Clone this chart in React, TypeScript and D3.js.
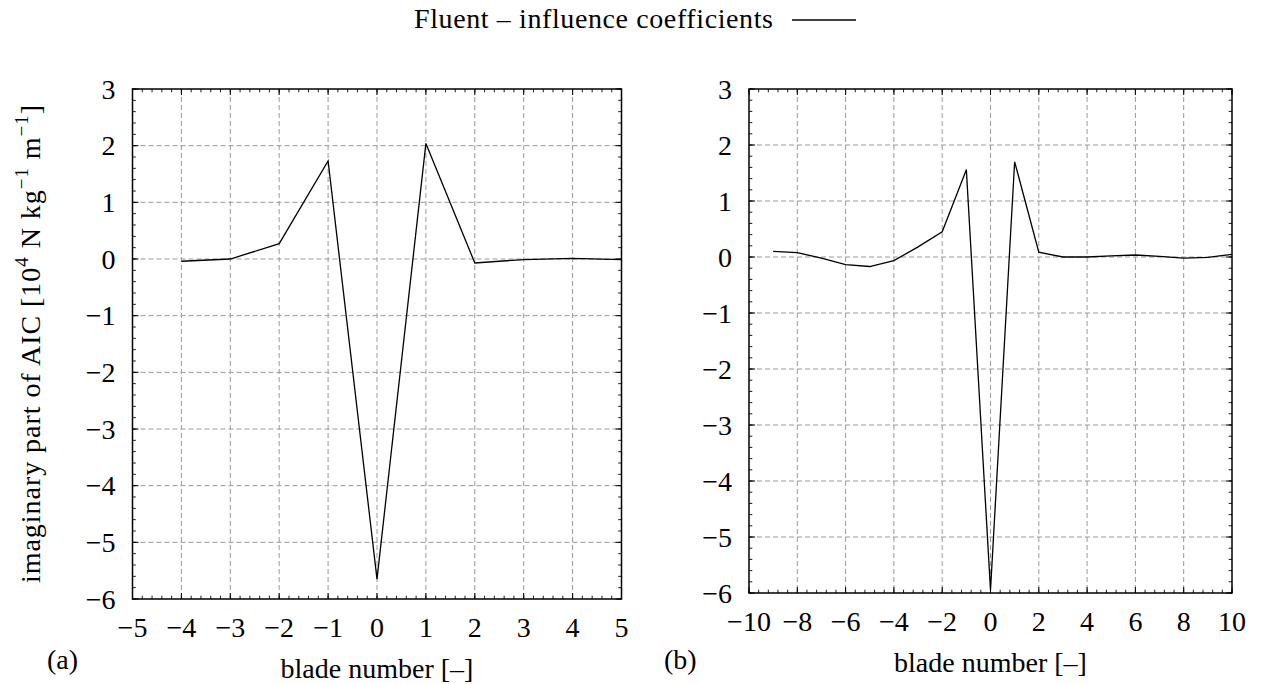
import React from "react";
import * as d3 from "d3";

const bladesA = [-4, -3, -2, -1, 0, 1, 2, 3, 4, 5];
const valuesA = [-0.04, 0.0, 0.27, 1.73, -5.65, 2.04, -0.07, -0.01, 0.01, -0.01];

const bladesB = [-9, -8, -7, -6, -5, -4, -3, -2, -1, 0, 1, 2, 3, 4, 5, 6, 7, 8, 9, 10];
const valuesB = [0.1, 0.077, -0.02, -0.137, -0.17, -0.065, 0.18, 0.45, 1.56, -5.95, 1.7, 0.085, 0.0, 0.0, 0.02, 0.036, 0.01, -0.02, -0.006, 0.048];

const xTicksA = [-5, -4, -3, -2, -1, 0, 1, 2, 3, 4, 5];
const xTicksB = [-10, -8, -6, -4, -2, 0, 2, 4, 6, 8, 10];
const yTicks = [3, 2, 1, 0, -1, -2, -3, -4, -5, -6];

const FONT = "'Liberation Serif', 'DejaVu Serif', serif";
const FS = 28;

function fmt(v: number) {
  return v < 0 ? "\u2212" + Math.abs(v) : String(v);
}

function Panel(props: {
  xs: number[]; ys: number[]; xTicks: number[]; xDomain: [number, number];
  left: number; right: number; top: number; bottom: number; minorStep: number;
  label: string; labelX: number; labelY: number; titleY: number;
}) {
  const { xs, ys, xTicks, xDomain, left, right, top, bottom, minorStep, label, labelX, labelY, titleY } = props;
  const x = d3.scaleLinear().domain(xDomain).range([left, right]);
  const y = d3.scaleLinear().domain([-6, 3]).range([bottom, top]);
  const line = d3.line<number>().x((_, i) => x(xs[i])).y((d) => y(d));
  const xMinor = d3.range(xDomain[0], xDomain[1] + 1e-9, minorStep);
  const yMinor = d3.range(-6, 3 + 1e-9, 0.2);
  const majLen = 6, minLen = 3.3;
  return (
    <g>
      {xTicks.slice(1, -1).map((t) => (
        <line key={"gx" + t} x1={x(t)} x2={x(t)} y1={top} y2={bottom} stroke="#9a9a9a" strokeWidth={1} strokeDasharray="5,3" />
      ))}
      {yTicks.slice(1, -1).map((t) => (
        <line key={"gy" + t} x1={left} x2={right} y1={y(t)} y2={y(t)} stroke="#9a9a9a" strokeWidth={1} strokeDasharray="5,3" />
      ))}
      {xMinor.map((t, i) => (
        <g key={"mx" + i}>
          <line x1={x(t)} x2={x(t)} y1={bottom} y2={bottom - minLen} stroke="#000" strokeWidth={0.9} />
          <line x1={x(t)} x2={x(t)} y1={top} y2={top + minLen} stroke="#000" strokeWidth={0.9} />
        </g>
      ))}
      {yMinor.map((t, i) => (
        <g key={"my" + i}>
          <line x1={left} x2={left + minLen} y1={y(t)} y2={y(t)} stroke="#000" strokeWidth={0.9} />
          <line x1={right} x2={right - minLen} y1={y(t)} y2={y(t)} stroke="#000" strokeWidth={0.9} />
        </g>
      ))}
      {xTicks.map((t) => (
        <g key={"Mx" + t}>
          <line x1={x(t)} x2={x(t)} y1={bottom} y2={bottom - majLen} stroke="#000" strokeWidth={1} />
          <line x1={x(t)} x2={x(t)} y1={top} y2={top + majLen} stroke="#000" strokeWidth={1} />
          <text x={x(t)} y={bottom + 38} textAnchor="middle" fontSize={FS} fontFamily={FONT}>{fmt(t)}</text>
        </g>
      ))}
      {yTicks.map((t) => (
        <g key={"My" + t}>
          <line x1={left} x2={left + majLen} y1={y(t)} y2={y(t)} stroke="#000" strokeWidth={1} />
          <line x1={right} x2={right - majLen} y1={y(t)} y2={y(t)} stroke="#000" strokeWidth={1} />
          <text x={left - 17} y={y(t) + 9.5} textAnchor="end" fontSize={FS} fontFamily={FONT}>{fmt(t)}</text>
        </g>
      ))}
      <rect x={left} y={top} width={right - left} height={bottom - top} fill="none" stroke="#000" strokeWidth={1.5} />
      <path d={line(ys) || ""} fill="none" stroke="#000" strokeWidth={1.3} strokeLinejoin="miter" />
      <text x={labelX} y={labelY} fontSize={FS} fontFamily={FONT}>{label}</text>
      <text x={(left + right) / 2} y={titleY} textAnchor="middle" fontSize={FS} fontFamily={FONT}>blade number [{"\u2013"}]</text>
    </g>
  );
}

export default function App() {
  return (
    <svg width={1261} height={684} style={{ position: "absolute", left: 0, top: 0, background: "#fff" }}>
      <text x={414} y={28} fontSize={FS} fontFamily={FONT} textLength={359} lengthAdjust="spacing">Fluent {"\u2013"} influence coefficients</text>
      <line x1={792} x2={856} y1={20} y2={20} stroke="#000" strokeWidth={1.3} />
      <Panel xs={bladesA} ys={valuesA} xTicks={xTicksA} xDomain={[-5, 5]} left={132.5} right={621.5} top={89} bottom={599}
        minorStep={0.2} label="(a)" labelX={47} labelY={669} titleY={678} />
      <Panel xs={bladesB} ys={valuesB} xTicks={xTicksB} xDomain={[-10, 10]} left={749} right={1232} top={89} bottom={593}
        minorStep={0.4} label="(b)" labelX={664} labelY={669} titleY={672} />
      <text transform="translate(40,344) rotate(-90)" x={-239} y={0} fontSize={FS} fontFamily={FONT} textLength={478} lengthAdjust="spacing">
        imaginary part of AIC [10<tspan dy={-12} fontSize={19}>4</tspan><tspan dy={12}> N kg</tspan><tspan dy={-12} fontSize={19}>{"\u22121"}</tspan><tspan dy={12}> m</tspan><tspan dy={-12} fontSize={19}>{"\u22121"}</tspan><tspan dy={12}>]</tspan>
      </text>
    </svg>
  );
}
